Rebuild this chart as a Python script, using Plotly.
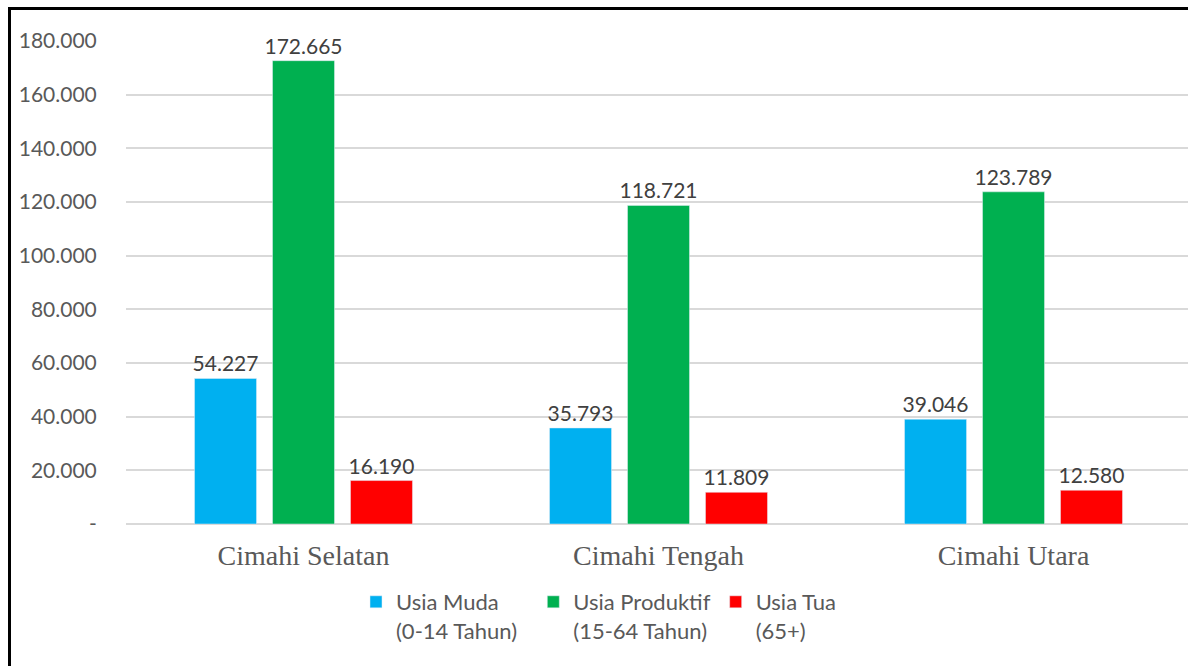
import plotly.graph_objects as go

categories = ["Cimahi Selatan", "Cimahi Tengah", "Cimahi Utara"]
usia_muda = [54227, 35793, 39046]
usia_produktif = [172665, 118721, 123789]
usia_tua = [16190, 11809, 12580]
series_names = ["Usia Muda<br>(0-14 Tahun)\u00a0\u00a0", "Usia Produktif<br>(15-64 Tahun)", "Usia Tua<br>(65+)"]
series_colors = ["#00B0F0", "#00B050", "#FF0000"]
tick_vals = [0, 20000, 40000, 60000, 80000, 100000, 120000, 140000, 160000, 180000]
tick_text = ["-", "20.000", "40.000", "60.000", "80.000", "100.000", "120.000", "140.000", "160.000", "180.000"]

W, H = 1188, 666
ml, mr, mt, mb = 126, 0, 41, H - 524
pw = W - ml - mr
ph = H - mt - mb

fig = go.Figure()
for name, vals, col in zip(series_names, [usia_muda, usia_produktif, usia_tua], series_colors):
    fig.add_trace(go.Bar(
        x=categories, y=vals, name=name, marker_color=col,
        texttemplate="%{y:,d}", textposition="outside", cliponaxis=False,
        constraintext="none",
        textfont=dict(family="Lato, Open Sans, sans-serif", size=21, color="#404040"),
    ))

def px_x(p):
    return (p - ml) / pw

def px_y(p):
    return (H - mb - p) / ph

shapes = [
    dict(type="line", xref="paper", yref="paper", x0=px_x(8), x1=px_x(1200), y0=px_y(8.5), y1=px_y(8.5),
         line=dict(color="black", width=3)),
    dict(type="line", xref="paper", yref="paper", x0=px_x(9.5), x1=px_x(9.5), y0=px_y(7), y1=px_y(680),
         line=dict(color="black", width=3)),
]

fig.update_layout(
    width=W, height=H,
    margin=dict(l=ml, r=mr, t=mt, b=mb),
    plot_bgcolor="white", paper_bgcolor="white",
    separators=",.",
    barmode="group", bargap=0.341, bargroupgap=0.205,
    shapes=shapes,
    font=dict(family="Lato, Open Sans, sans-serif", size=21, color="#595959"),
    xaxis=dict(range=[-0.5, 2.4915], showline=False, ticks="outside", ticklen=6, tickcolor="white",
               tickfont=dict(family="Liberation Serif, Times New Roman, serif", size=28, color="#595959"),
               showgrid=False, zeroline=False),
    yaxis=dict(range=[0, 180000], tickvals=tick_vals, ticktext=tick_text,
               showgrid=True, gridcolor="#D9D9D9", gridwidth=1.5,
               zeroline=True, zerolinecolor="#D9D9D9", zerolinewidth=1.5,
               ticks="outside", ticklen=24, tickcolor="white",
               tickfont=dict(family="Lato, Open Sans, sans-serif", size=21, color="#595959")),
    legend=dict(orientation="h", x=px_x(356), y=px_y(581), xanchor="left", yanchor="top",
                font=dict(family="Lato, Open Sans, sans-serif", size=22, color="#595959"),
                traceorder="normal", valign="top"),
)

fig.write_html(
    "out.html",
    config={"displayModeBar": False},
    post_script="document.documentElement.style.overflow='hidden';"
                "document.body.style.margin='0';document.body.style.overflow='hidden';",
)
